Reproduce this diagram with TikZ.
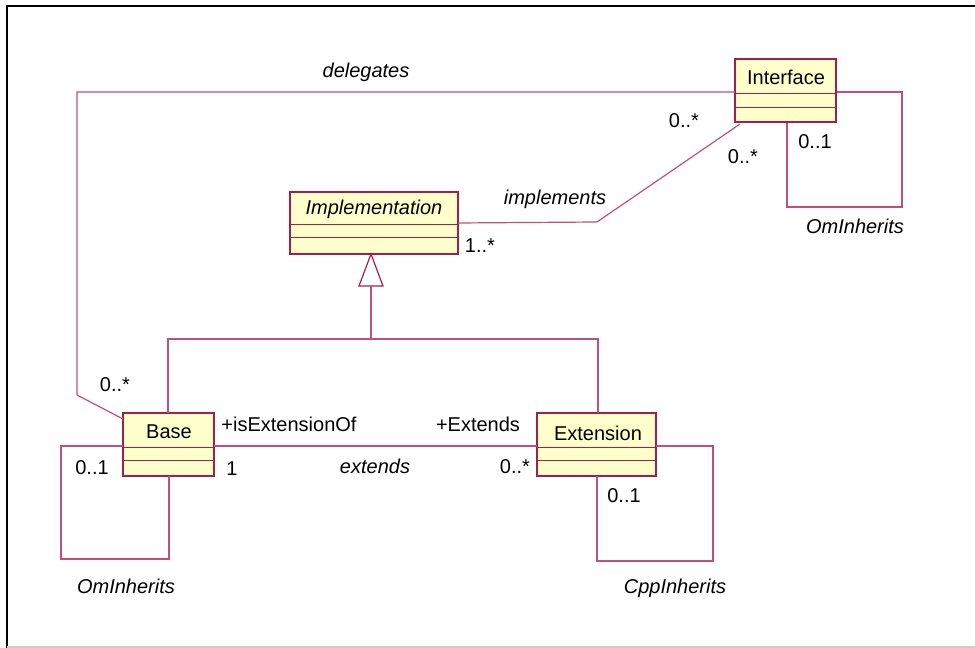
\documentclass[tikz,border=0pt]{standalone}
\usepackage{fontspec}
\setmainfont{Liberation Sans}
\begin{document}
\begin{tikzpicture}[x=0.75pt,y=-0.75pt,
  every node/.style={font=\fontsize{15}{18}\selectfont},
  cls/.style={draw=boxc, fill=boxfill, line width=1pt},
  sep/.style={draw=boxc, line width=0.6pt},
  assoc/.style={draw=linec, line width=0.9pt},
  lbl/.style={inner sep=0pt, anchor=center},
  ilbl/.style={inner sep=0pt, anchor=center, font=\fontsize{15}{18}\selectfont\itshape}]
\definecolor{boxc}{HTML}{A0204A}
\definecolor{linec}{HTML}{C05078}
\definecolor{boxfill}{HTML}{FFFFCC}
\useasboundingbox (0,0) rectangle (975,648);
% frame
\draw[line width=1.5pt, black] (7,648) -- (7,6) -- (975,6);
\draw[line width=1pt, gray!40] (7,647) -- (975,647);

% boxes
\path[cls] (735,59) rectangle (836,122);
\draw[sep] (735,93) -- (836,93) (735,107) -- (836,107);
\node[lbl] (iface) at (786,77) {Interface};
\coordinate (ifNW) at (735,59); \coordinate (ifSE) at (836,122);

\path[cls] (290,192) rectangle (458,254);
\draw[sep] (290,224) -- (458,224) (290,237) -- (458,237);
\node[lbl, font=\fontsize{15}{18}\selectfont\itshape] (impl) at (374,209) {Implementation};

\path[cls] (123,413) rectangle (214,476);
\draw[sep] (123,447) -- (214,447) (123,460) -- (214,460);
\node[lbl] (base) at (169,432) {Base};

\path[cls] (537,413) rectangle (656,476);
\draw[sep] (537,447) -- (656,447) (537,460) -- (656,460);
\node[lbl] (ext) at (598,433) {Extension};

% named anchor points
\coordinate (ifL) at (735,92);
\coordinate (ifR) at (837,92);
\coordinate (ifB) at (787,123);
\coordinate (ifBL) at (740,124);
\coordinate (implR) at (458,223);
\coordinate (implB) at (371,254);
\coordinate (baseNW) at (123,419);
\coordinate (baseT) at (168,413);
\coordinate (baseR) at (214,446);
\coordinate (baseL) at (123,446);
\coordinate (baseB) at (169,476);
\coordinate (extT) at (598,413);
\coordinate (extL) at (537,446);
\coordinate (extR) at (656,446);
\coordinate (extB) at (597,476);

% delegates
\draw[assoc] (ifL) -- (77,92) -- (77,395) -- (baseNW);
% interface self loop
\draw[assoc] (ifR) -- (902,92) -- (902,207) -- (787,207) -- (ifB);
% implements
\draw[assoc] (ifBL) -- (597,222) -- (implR);
% generalization
\draw[draw=boxc, fill=white, line width=0.9pt] (implB) -- (383,286) -- (359,286) -- cycle;
\draw[assoc] (371,286) -- (371,339);
\draw[assoc] (baseT) -- (168,339) -- (598,339) -- (extT);
% extends
\draw[assoc] (baseR) -- (extL);
% base self loop
\draw[assoc] (baseL) -- (61,446) -- (61,559) -- (169,559) -- (baseB);
% extension self loop
\draw[assoc] (extR) -- (713,446) -- (713,561) -- (597,561) -- (extB);

% labels
\node[ilbl] (l1) at (366,72) {delegates};
\node[lbl] (l2) at (684,121) {0..*};
\node[lbl] (l3) at (743,157) {0..*};
\node[lbl] (l4) at (815,142) {0..1};
\node[ilbl] (l5) at (855,226) {OmInherits};
\node[ilbl] (l6) at (555,199) {implements};
\node[lbl] (l7) at (480,246) {1..*};
\node[lbl] (l8) at (115,385) {0..*};
\node[lbl] (l9) at (289,424) {+isExtensionOf};
\node[lbl] (l10) at (232,469) {1};
\node[lbl] (l11) at (478,424) {+Extends};
\node[ilbl] (l12) at (375,466) {extends};
\node[lbl] (l13) at (515,467) {0..*};
\node[lbl] (l14) at (92,468) {0..1};
\node[ilbl] (l15) at (126,586) {OmInherits};
\node[lbl] (l16) at (624,496) {0..1};
\node[ilbl] (l17) at (675,588) {CppInherits};
\end{tikzpicture}
\end{document}
